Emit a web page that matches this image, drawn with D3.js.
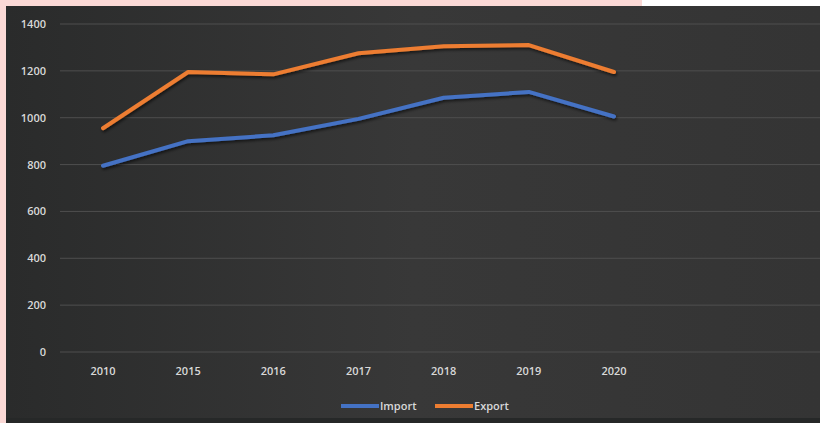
<!DOCTYPE html>
<html>
<head>
<meta charset="utf-8">
<script src="https://cdn.jsdelivr.net/npm/d3@7"></script>
<style>
  body { margin: 0; background: #fff; }
  svg { display: block; font-family: "Open Sans", "Liberation Sans", sans-serif; }
</style>
</head>
<body>
<svg id="chart" width="820" height="423"></svg>
<script>
const years = ['2010', '2015', '2016', '2017', '2018', '2019', '2020']
const importValues = [795, 900, 925, 995, 1085, 1110, 1005]
const exportValues = [955, 1195, 1185, 1275, 1305, 1310, 1195]
const yTicks = [0, 200, 400, 600, 800, 1000, 1200, 1400]

const svg = d3.select('#chart')

// frame: pink strip on top and left, then the dark chart area
svg.append('rect').attr('x', 0).attr('y', 0).attr('width', 642).attr('height', 6).attr('fill', '#fbd9d6')
svg.append('rect').attr('x', 0).attr('y', 0).attr('width', 6).attr('height', 423).attr('fill', '#fbd9d6')

const defs = svg.append('defs')
const grad = defs.append('linearGradient').attr('id', 'bg').attr('x1', 0).attr('y1', 0).attr('x2', 1).attr('y2', 0)
grad.append('stop').attr('offset', '0%').attr('stop-color', '#2a2b2b')
grad.append('stop').attr('offset', '50%').attr('stop-color', '#383838')
grad.append('stop').attr('offset', '100%').attr('stop-color', '#343434')

const shadow = defs.append('filter').attr('id', 'shadow').attr('x', '-5%').attr('y', '-20%').attr('width', '110%').attr('height', '140%')
shadow.append('feDropShadow').attr('dx', 1).attr('dy', 2).attr('stdDeviation', 1.5).attr('flood-color', '#000').attr('flood-opacity', 0.6)

svg.append('rect').attr('x', 6).attr('y', 6).attr('width', 814).attr('height', 417).attr('fill', 'url(#bg)')
svg.append('rect').attr('x', 6).attr('y', 418).attr('width', 814).attr('height', 5).attr('fill', '#262828')

const y = d3.scaleLinear().domain([0, 1400]).range([352, 24])
const x = d3.scalePoint().domain(years).range([103, 614])

// gridlines
svg.append('g')
  .selectAll('line')
  .data(yTicks)
  .enter()
  .append('line')
  .attr('x1', 60)
  .attr('x2', 820)
  .attr('y1', d => y(d))
  .attr('y2', d => y(d))
  .attr('stroke', '#4e4e4e')
  .attr('stroke-width', 1)

// y axis labels
svg.append('g')
  .selectAll('text')
  .data(yTicks)
  .enter()
  .append('text')
  .attr('x', 46)
  .attr('y', d => y(d) + 4)
  .attr('text-anchor', 'end')
  .attr('fill', '#d9d9d9')
  .attr('font-size', 11)
  .attr('font-weight', 600)
  .text(d => d)

// x axis labels
svg.append('g')
  .selectAll('text')
  .data(years)
  .enter()
  .append('text')
  .attr('x', d => x(d))
  .attr('y', 375)
  .attr('text-anchor', 'middle')
  .attr('fill', '#d9d9d9')
  .attr('font-size', 11)
  .attr('font-weight', 600)
  .text(d => d)

const line = d3.line()
  .x((d, i) => x(years[i]))
  .y(d => y(d))

const series = [
  { name: 'Import', values: importValues, color: '#4472c4' },
  { name: 'Export', values: exportValues, color: '#ed7d31' }
]

svg.append('g')
  .selectAll('path')
  .data(series)
  .enter()
  .append('path')
  .attr('d', d => line(d.values))
  .attr('fill', 'none')
  .attr('stroke', d => d.color)
  .attr('stroke-width', 4)
  .attr('stroke-linejoin', 'round')
  .attr('stroke-linecap', 'round')
  .attr('filter', 'url(#shadow)')

// legend
const legend = svg.append('g')
  .selectAll('g')
  .data(series)
  .enter()
  .append('g')
  .attr('transform', (d, i) => `translate(${341 + i * 94},406)`)

legend.append('line')
  .attr('x1', 0).attr('x2', 38)
  .attr('stroke', d => d.color)
  .attr('stroke-width', 4)

legend.append('text')
  .attr('x', 39)
  .attr('y', 4)
  .attr('fill', '#d9d9d9')
  .attr('font-size', 11)
  .attr('font-weight', 600)
  .text(d => d.name)
</script>
</body>
</html>
